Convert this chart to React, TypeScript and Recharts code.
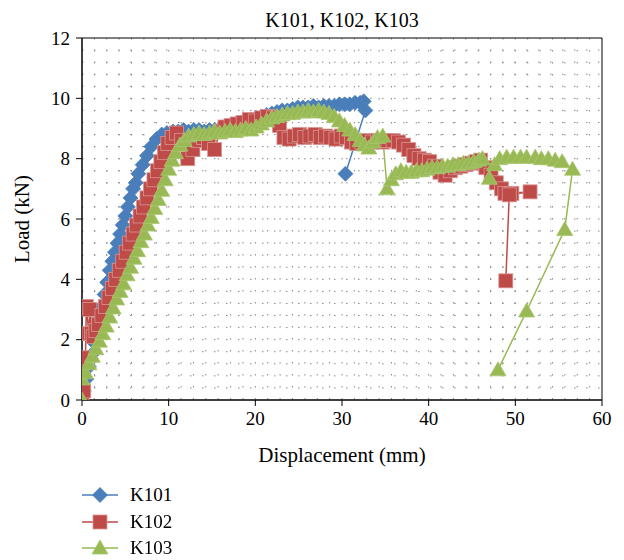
import React from "react";
import {
  CartesianGrid,
  Legend,
  Line,
  LineChart,
  ReferenceArea,
  XAxis,
  YAxis,
} from "recharts";

// K101 (blue diamonds)
const k101Disp = [
  0.2, 0.5, 0.8, 1.1, 1.4, 1.7, 2.0, 2.3, 2.6, 2.9, 3.2, 3.5, 3.8, 4.1, 4.4, 4.7, 5.0, 5.3, 5.6, 5.9,
  6.2, 6.5, 7.0, 7.5, 8.0, 8.6, 9.2, 9.8, 10.5, 11.1, 11.7, 12.3, 12.9, 13.5, 14.1, 14.7, 15.3, 15.9,
  16.5, 17.1, 17.7, 18.3, 18.9, 19.5, 20.1, 20.7, 21.3, 21.9, 22.5, 23.1, 23.7, 24.3, 24.9, 25.5,
  26.1, 26.7, 27.3, 27.9, 28.5, 29.1, 29.7, 30.3, 30.9, 31.5, 32.1, 32.5, 32.7, 30.4,
];
const k101Load = [
  0.3, 0.7, 1.1, 1.5, 1.9, 2.3, 2.7, 3.1, 3.5, 3.9, 4.3, 4.6, 4.9, 5.2, 5.5, 5.8, 6.1, 6.4, 6.7, 7.0,
  7.2, 7.5, 7.8, 8.1, 8.4, 8.65, 8.8, 8.85, 8.9, 8.9, 8.95, 8.9, 8.95, 8.95, 8.9, 8.95, 8.95, 9.0,
  9.05, 9.1, 9.15, 9.2, 9.25, 9.3, 9.35, 9.4, 9.45, 9.5, 9.55, 9.6, 9.6, 9.65, 9.7, 9.7,
  9.7, 9.75, 9.7, 9.75, 9.75, 9.75, 9.8, 9.8, 9.8, 9.85, 9.85, 9.9, 9.6, 7.5,
];

// K102 (red squares)
const k102Disp = [
  0, 0, 0.2, 0.4, 0.5, 0.8, 0.9, 1.1, 1.3, 1.6, 1.9, 2.3, 2.7, 3.1, 3.5, 3.9, 4.3, 4.7, 5.1, 5.5,
  5.9, 6.3, 6.7, 7.1, 7.5, 7.9, 8.3, 8.7, 9.1, 9.5, 9.9, 10.4, 10.9, 11.5, 12.2, 12.8, 13.4, 14.0,
  14.6, 15.3, 15.9, 16.5, 17.2, 17.9, 18.6, 19.3, 20.0, 20.7, 21.4, 22.1, 22.8, 23.3, 23.9, 24.5,
  25.1, 25.7, 26.3, 26.9, 27.5, 28.1, 28.7, 29.3, 29.9, 30.5, 31.1, 31.7, 32.3, 32.9, 33.5, 34.1,
  34.7, 35.3, 35.9, 36.5, 37.1, 37.7, 38.3, 38.9, 39.5, 40.1, 40.7, 41.3, 41.9, 42.5, 43.1, 43.7,
  44.3, 44.9, 45.5, 46.0, 46.6, 47.2, 47.8, 48.4, 48.8, 49.6, 51.7, 49.3, 48.9,
];
const k102Load = [
  0, 1.3, 0.3, 1.4, 3.1, 2.2, 3.0, 2.2, 2.1, 2.3, 2.5, 2.8, 3.1, 3.4, 3.7, 4.0, 4.3, 4.6, 4.9, 5.2,
  5.5, 5.8, 6.1, 6.4, 6.7, 7.0, 7.3, 7.6, 7.9, 8.2, 8.5, 8.7, 8.85, 8.6, 8.0, 8.3, 8.6, 8.7,
  8.5, 8.3, 8.9, 9.05, 9.1, 9.15, 9.2, 9.3, 9.25, 9.35, 9.4, 9.35, 9.1, 8.7, 8.65, 8.75,
  8.8, 8.7, 8.75, 8.8, 8.7, 8.75, 8.7, 8.65, 8.75, 8.7, 8.55, 8.5, 8.55, 8.6, 8.55, 8.6,
  8.55, 8.6, 8.6, 8.55, 8.45, 8.3, 8.1, 8.0, 7.95, 7.9, 7.75, 7.55, 7.45, 7.6, 7.7, 7.75,
  7.8, 7.85, 7.9, 7.95, 7.7, 7.45, 7.2, 7.0, 6.85, 6.85, 6.9, 6.8, 3.95,
];

// K103 (green triangles)
const k103Disp = [
  0, 0, 0.4, 0.8, 1.2, 1.6, 2.0, 2.4, 2.8, 3.2, 3.6, 4.0, 4.4, 4.8, 5.2, 5.6, 6.0, 6.4, 6.8, 7.2,
  7.6, 8.0, 8.4, 8.8, 9.2, 9.6, 10.0, 10.4, 10.8, 11.3, 11.8, 12.3, 12.9, 13.5, 14.1, 14.7, 15.3,
  15.9, 16.5, 17.1, 17.7, 18.3, 18.9, 19.5, 20.1, 20.7, 21.3, 21.9, 22.5, 23.1, 23.7, 24.3, 24.9,
  25.5, 26.1, 26.7, 27.3, 27.9, 28.5, 29.1, 29.7, 30.3, 30.9, 31.5, 32.1, 32.6, 33.1, 33.6, 34.1,
  34.7, 35.2, 35.7, 36.2, 36.8, 37.4, 38.0, 38.6, 39.2, 39.8, 40.4, 41.0, 41.6, 42.2, 42.8, 43.4,
  44.0, 44.6, 45.2, 45.8, 46.2, 47.0, 47.6, 48.2, 49.0, 49.8, 50.6, 51.3, 52.3, 53.0, 53.8, 54.6,
  55.4, 56.6, 55.7, 51.3, 48.0,
];
const k103Load = [
  0, 0.7, 0.9, 1.2, 1.45, 1.7, 1.95, 2.2, 2.45, 2.75, 3.05, 3.35, 3.6, 3.85, 4.15, 4.4, 4.7, 4.95,
  5.25, 5.5, 5.8, 6.05, 6.35, 6.65, 6.95, 7.3, 7.65, 7.95, 8.2, 8.45, 8.6, 8.75, 8.8, 8.85, 8.8,
  8.85, 8.9, 8.85, 8.9, 8.95, 8.9, 8.95, 9.0, 8.95, 9.05, 9.15, 9.25, 9.35, 9.4, 9.45, 9.5, 9.5,
  9.55, 9.55, 9.6, 9.55, 9.6, 9.55, 9.5, 9.4, 9.25, 9.1, 8.95, 8.8, 8.6, 8.45, 8.35, 8.55, 8.7,
  8.75, 7.0, 7.3, 7.5, 7.6, 7.55, 7.55, 7.6, 7.6, 7.65, 7.7, 7.7, 7.75, 7.75, 7.8, 7.8,
  7.85, 7.85, 7.9, 7.95, 8.0, 7.35, 7.8, 8.0, 8.05, 8.05, 8.05, 8.05, 8.05, 8.0, 8.0, 7.95,
  7.9, 7.65, 5.65, 2.95, 1.0,
];

const xDomain = [0, 60];
const yDomain = [0, 12];
const xTicks = [0, 10, 20, 30, 40, 50, 60];
const yTicks = [0, 2, 4, 6, 8, 10, 12];
// dotted minor grid: rows every 0.4 kN, columns every 10/7 mm
const gridLoads = Array.from({ length: 29 }, (_, i) => (i + 1) * 0.4);
const gridDisps = Array.from({ length: 41 }, (_, i) => ((i + 1) * 10) / 7);

const FONT = "'Liberation Serif', 'Times New Roman', serif";

type Shape = "diamond" | "square" | "triangle";

const series: {
  name: string;
  disp: number[];
  load: number[];
  color: string;
  edge: string;
  shape: Shape;
}[] = [
  { name: "K101", disp: k101Disp, load: k101Load, color: "#4a7ebb", edge: "#4a7ebb", shape: "diamond" },
  { name: "K102", disp: k102Disp, load: k102Load, color: "#be4b48", edge: "#d99694", shape: "square" },
  { name: "K103", disp: k103Disp, load: k103Load, color: "#98b954", edge: "#a9c76f", shape: "triangle" },
];

function Marker({ cx, cy, shape, color, edge }: { cx?: number; cy?: number; shape: Shape; color: string; edge: string }) {
  if (cx == null || cy == null || isNaN(cx) || isNaN(cy)) return null;
  if (shape === "diamond") {
    const r = 7.5;
    return (
      <polygon
        points={`${cx},${cy - r} ${cx + r},${cy} ${cx},${cy + r} ${cx - r},${cy}`}
        fill={color}
        stroke={edge}
        strokeWidth={0.8}
      />
    );
  }
  if (shape === "square") {
    const r = 7;
    return <rect x={cx - r} y={cy - r} width={2 * r} height={2 * r} fill={color} stroke={edge} strokeWidth={0.8} />;
  }
  return (
    <polygon
      points={`${cx},${cy - 8} ${cx + 8},${cy + 6} ${cx - 8},${cy + 6}`}
      fill={color}
      stroke={edge}
      strokeWidth={0.8}
    />
  );
}

function LegendRows() {
  return (
    <div style={{ display: "flex", flexDirection: "column", whiteSpace: "nowrap", width: 160 }}>
      {series.map((s) => (
        <div key={s.name} style={{ display: "flex", alignItems: "center", height: 26.5 }}>
          <svg width={36} height={20} style={{ flexShrink: 0, display: "block" }}>
            <line x1={0} x2={36} y1={10} y2={10} stroke={s.color} strokeWidth={1.5} />
            <Marker cx={18} cy={10} shape={s.shape} color={s.color} edge={s.edge} />
          </svg>
          <span style={{ marginLeft: 12, fontSize: 19, fontFamily: FONT, color: "#000" }}>{s.name}</span>
        </div>
      ))}
    </div>
  );
}

function YLabel({ viewBox }: any) {
  const cx = viewBox.x + 22;
  const cy = viewBox.y + viewBox.height / 2;
  return (
    <text
      x={cx}
      y={cy}
      transform={`rotate(-90 ${cx} ${cy})`}
      textAnchor="middle"
      dominantBaseline="central"
      fontSize={21}
      fontFamily={FONT}
      fill="#000"
    >
      Load (kN)
    </text>
  );
}

export default function App() {
  const tickStyle = { fill: "#000", fontSize: 19, fontFamily: FONT };
  return (
    <div style={{ position: "fixed", left: 0, top: 0, width: 624, height: 560, background: "#fff" }}>
      <div
        style={{
          position: "absolute",
          left: 82,
          width: 520,
          top: 10,
          textAlign: "center",
          fontFamily: FONT,
          fontSize: 20,
          lineHeight: "20px",
          color: "#000",
        }}
      >
        K101, K102, K103
      </div>
      <LineChart width={624} height={560} margin={{ top: 38, right: 22, bottom: 99, left: 0 }}>
        <CartesianGrid
          stroke="#8a8a8a"
          strokeDasharray="1.5 10.5"
          horizontalCoordinatesGenerator={({ offset }: any) =>
            gridLoads.map((v) => offset.top + offset.height * (1 - (v - yDomain[0]) / (yDomain[1] - yDomain[0])))
          }
          verticalCoordinatesGenerator={({ offset }: any) =>
            gridDisps.map((v) => offset.left + (offset.width * (v - xDomain[0])) / (xDomain[1] - xDomain[0]))
          }
        />
        <XAxis
          type="number"
          dataKey="x"
          domain={xDomain}
          ticks={xTicks}
          allowDataOverflow
          height={60}
          tick={tickStyle}
          tickMargin={6}
          tickLine={{ stroke: "#000" }}
          axisLine={{ stroke: "#000" }}
          label={{
            value: "Displacement (mm)",
            position: "insideTop",
            offset: 47,
            fill: "#000",
            fontSize: 21,
            fontFamily: FONT,
          }}
        />
        <YAxis
          type="number"
          domain={yDomain}
          ticks={yTicks}
          allowDataOverflow
          width={82}
          tick={tickStyle}
          tickMargin={6}
          tickLine={{ stroke: "#000" }}
          axisLine={{ stroke: "#000" }}
          label={<YLabel />}
        />
        <ReferenceArea x1={0} x2={60} y1={0} y2={12} fill="none" stroke="#000" strokeWidth={1} />
        {series.map((s) => (
          <Line
            key={s.name}
            name={s.name}
            data={s.disp.map((x, i) => ({ x, y: s.load[i] }))}
            dataKey="y"
            type="linear"
            stroke={s.color}
            strokeWidth={1.5}
            activeDot={false}
            isAnimationActive={false}
            dot={(p: any) => (
              <Marker key={`${s.name}-${p.index}`} cx={p.cx} cy={p.cy} shape={s.shape} color={s.color} edge={s.edge} />
            )}
          />
        ))}
        <Legend
          verticalAlign="bottom"
          align="left"
          layout="horizontal"
          wrapperStyle={{ left: 82, top: 482, bottom: "auto", width: 1, height: 1, overflow: "visible" }}
          content={() => <LegendRows />}
        />
      </LineChart>
    </div>
  );
}
